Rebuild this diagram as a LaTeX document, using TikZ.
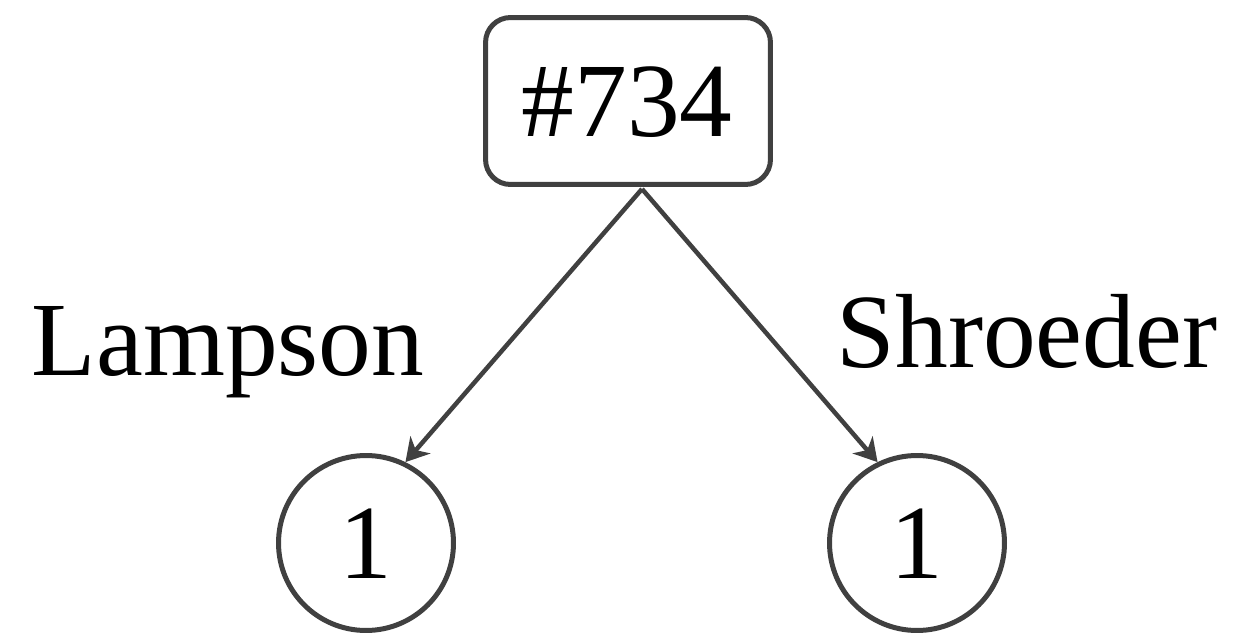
\documentclass[tikz,border=0pt]{standalone}
\usepackage{fontspec}
\setmainfont{Liberation Serif}
\usepackage{xcolor}
\usetikzlibrary{arrows.meta,positioning,calc}
\definecolor{clrEdge}{RGB}{64,64,64}
\tikzset{
  rootbox/.style={rectangle,rounded corners=0.5cm,draw=clrEdge,line width=0.1cm,
    minimum width=5.70cm,minimum height=3.34cm,inner sep=0pt},
  leaf/.style={circle,draw=clrEdge,line width=0.1cm,minimum size=3.50cm,
    inner sep=0pt},
  bigtext/.style={anchor=base,inner sep=0pt,font=\fontsize{60}{72}\selectfont},
  arrow/.style={-{Stealth[length=13pt,width=15pt,inset=4pt]},line width=0.09cm,
    color=clrEdge}
}
\begin{document}
\begin{tikzpicture}[x=0.02cm,y=-0.02cm]
  \useasboundingbox (0,0) rectangle (1239,634);

  \node[rootbox] (root) at (628,101) {};
  \node[bigtext] (rootlbl) at (627,137) {\#734};

  \node[leaf] (leafL) at (366,543) {};
  \node[leaf] (leafR) at (917,543) {};
  \node[bigtext] (numL) at (366,578) {1};
  \node[bigtext] (numR) at (917,578) {1};

  \node[bigtext] (lblL) at (228,376) {Lampson};
  \node[bigtext] (lblR) at (1027,367) {Shroeder};

  \coordinate (fork) at ([xshift=0.28cm,yshift=-0.04cm]root.south);
  \draw[arrow] (fork) -- (leafL.64);
  \draw[arrow] (fork) -- (leafR.116);
\end{tikzpicture}
\end{document}
